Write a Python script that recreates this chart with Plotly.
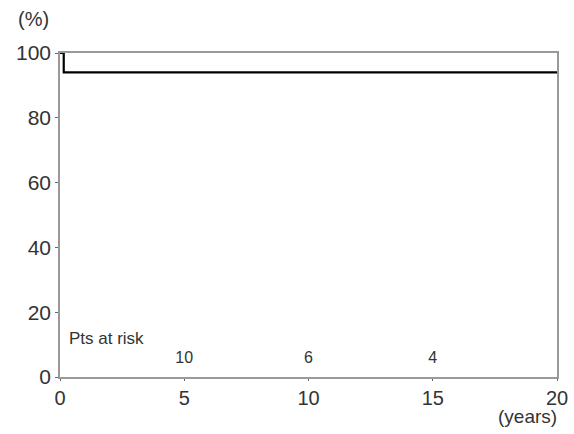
import plotly.graph_objects as go

# Kaplan-Meier survival curve data (years, %)
time_years = [0, 0.15, 0.15, 20]
survival_pct = [100, 100, 94, 94]

# Patients at risk
risk_times = [5, 10, 15]
risk_counts = [10, 6, 4]

x_ticks = [0, 5, 10, 15, 20]
y_ticks = [0, 20, 40, 60, 80, 100]

FONT = "Liberation Sans, Arial"

fig = go.Figure()
fig.add_trace(go.Scatter(x=time_years, y=survival_pct, mode="lines",
                         line=dict(color="black", width=2.2), showlegend=False,
                         hoverinfo="skip"))
fig.add_trace(go.Scatter(x=risk_times, y=[5.5] * len(risk_times), mode="text",
                         text=[str(c) for c in risk_counts],
                         textfont=dict(family=FONT, size=16, color="#333"),
                         showlegend=False, hoverinfo="skip"))

fig.add_annotation(x=0.3, y=12, xref="x", yref="y", text="Pts at risk", showarrow=False,
                   xanchor="left", font=dict(family=FONT, size=17, color="#333"))
fig.add_annotation(x=-0.088, y=1.0, xref="paper", yref="paper", yshift=34, text="(%)",
                   showarrow=False, xanchor="left", yanchor="middle",
                   font=dict(family=FONT, size=20, color="#333"))
fig.add_annotation(x=1.0, y=0, xref="paper", yref="paper", yshift=-39, xshift=2, text="(years)",
                   showarrow=False, xanchor="right", yanchor="middle",
                   font=dict(family=FONT, size=19, color="#333"))

fig.update_xaxes(range=[0, 20], tickvals=x_ticks, showgrid=False, zeroline=False,
                 showline=True, linecolor="#999", linewidth=1.5, mirror=True,
                 ticks="outside", ticklen=2, tickcolor="#666", automargin=False,
                 tickfont=dict(family=FONT, size=20, color="#333"))
fig.update_yaxes(range=[0, 100], tickvals=y_ticks, showgrid=False, zeroline=False,
                 showline=True, linecolor="#999", linewidth=1.5, mirror=True,
                 ticks="outside", ticklen=3, tickcolor="#666", automargin=False,
                 tickfont=dict(family=FONT, size=21, color="#333"))

fig.update_layout(width=574, height=434, margin=dict(l=60, r=17, t=53, b=57),
                  plot_bgcolor="white", paper_bgcolor="white")

fig.write_html("out.html", config={"displayModeBar": False},
               post_script="document.body.style.margin='0';")
